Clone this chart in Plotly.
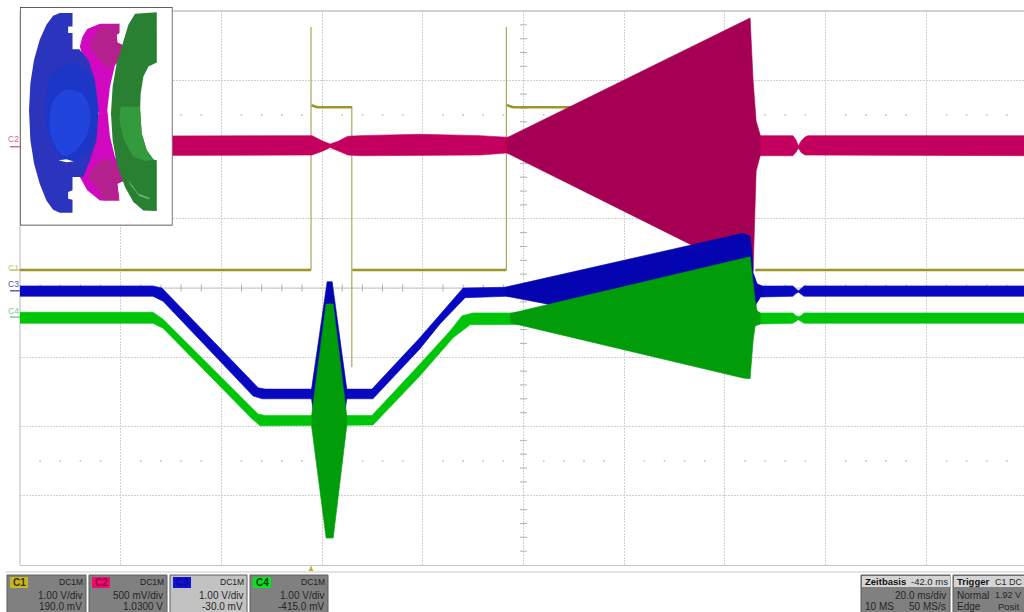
import plotly.graph_objects as go

# ---- Oscilloscope readings: time in ms from left edge, level in divisions from centre ----
c1_flat_t = [0, 57.8, None, 57.9, 59.0, 65.9, None, 66.0, 96.6, None, 96.7, 98.0, 145.0, None, 146.0, 200.6]
c1_flat_v = [0.26, 0.26, None, 2.64, 2.61, 2.61, None, 0.26, 0.26, None, 2.64, 2.61, 2.61, None, 0.26, 0.26]
c1_edge_t = [57.8, 57.8, None, 65.9, 65.9, None, 96.6, 96.6]
c1_edge_v = [0.26, 3.77, None, 2.62, -1.14, None, 0.26, 3.77]

c2_t = [0, 58.0, 60.2, 61.6, 63.2, 65.1, 67.5, 79.4, 91.4, 96.7, 98.3, 147.0, 153.5, 154.1, 154.6, 155.1, 155.9, 156.5, 200.6]
c2_top = [2.19, 2.2, 2.12, 2.08, 2.12, 2.19, 2.2, 2.22, 2.2, 2.17, 2.17, 2.2, 2.2, 2.14, 2.05, 2.12, 2.18, 2.2, 2.2]
c2_bot = [1.91, 1.92, 1.98, 2.03, 1.98, 1.92, 1.91, 1.91, 1.92, 1.95, 1.95, 1.91, 1.91, 1.96, 2.02, 1.96, 1.92, 1.91, 1.91]
c2_burst_top_t = [96.7, 145.0, 145.6, 146.2, 147.0]
c2_burst_top = [2.17, 3.9, 2.99, 2.41, 2.21]
c2_burst_bot_t = [96.7, 145.0, 145.6, 146.2, 147.0]
c2_burst_bot = [1.95, 0.2, 0.25, 1.69, 1.91]

c3_top_t = [0, 26.4, 28.2, 47.3, 48.7, 69.9, 79.4, 88.0, 96.3, 147.6, 153.5, 154.1, 154.6, 155.1, 155.7, 200.6]
c3_top = [0.03, 0.03, 0.0, -1.44, -1.46, -1.46, -0.72, 0.0, 0.01, 0.03, 0.03, -0.01, -0.04, -0.01, 0.03, 0.03]
c3_bot_t = [0, 26.4, 28.4, 46.3, 48.1, 70.1, 79.4, 83.4, 88.4, 96.7, 147.0, 153.5, 154.1, 154.6, 155.1, 155.7, 200.6]
c3_bot = [-0.12, -0.12, -0.19, -1.56, -1.6, -1.6, -0.88, -0.52, -0.14, -0.12, -0.13, -0.12, -0.08, -0.06, -0.08, -0.12, -0.12]
c3_b1_t = [57.9, 61.0, 62.0, 64.9]
c3_b1_top = [-1.46, 0.09, 0.09, -1.46]
c3_b1_bot = [-1.6, -3.15, -3.15, -1.6]
c3_b2_top_t = [96.3, 143.6, 145.0, 145.4, 145.6, 146.4, 147.4]
c3_b2_top = [0.01, 0.79, 0.75, 0.49, 0.22, 0.06, 0.03]
c3_b2_bot_t = [96.7, 103.9, 143.6, 145.0, 145.6, 146.2, 147.0]
c3_b2_bot = [-0.12, -0.22, -0.88, -0.84, -0.48, -0.23, -0.14]

c4_top_t = [0, 26.4, 28.4, 47.3, 48.7, 69.9, 79.4, 85.4, 87.8, 90.0, 97.3, 147.0, 153.5, 154.1, 154.6, 155.1, 155.7, 200.6]
c4_top = [-0.35, -0.35, -0.45, -1.82, -1.84, -1.84, -1.1, -0.62, -0.4, -0.36, -0.36, -0.36, -0.36, -0.4, -0.41, -0.4, -0.36, -0.36]
c4_bot_t = [0, 26.4, 28.4, 46.1, 47.7, 70.1, 79.4, 86.0, 89.4, 97.3, 147.0, 153.5, 154.1, 154.6, 155.1, 155.7, 200.6]
c4_bot = [-0.51, -0.51, -0.58, -1.89, -1.99, -1.98, -1.27, -0.72, -0.53, -0.52, -0.52, -0.51, -0.48, -0.46, -0.48, -0.51, -0.51]
c4_b1_t = [57.9, 60.8, 62.2, 64.9]
c4_b1_top = [-1.85, -0.23, -0.23, -1.85]
c4_b1_bot = [-1.99, -3.61, -3.61, -1.99]
c4_b2_top_t = [97.3, 145.0, 145.4, 146.0, 146.4, 147.0]
c4_b2_top = [-0.37, 0.45, 0.2, -0.19, -0.33, -0.36]
c4_b2_bot_t = [97.3, 143.6, 145.0, 145.6, 146.0, 147.0]
c4_b2_bot = [-0.5, -1.3, -1.31, -0.76, -0.55, -0.52]

# ---- Inset drawing outlines (in inset units) ----
ins_blue_x = [180, 218, 218, 205, 205, 218, 218, 238, 265, 285, 296, 290, 270, 250, 218, 218, 205, 205, 218, 218,
              180, 160, 140, 120, 103, 92, 88, 92, 103, 120, 140, 160]
ins_blue_y = [40, 40, 80, 80, 100, 100, 148, 148, 180, 240, 330, 420, 480, 530, 530, 570, 575, 595, 598, 637,
              637, 628, 600, 550, 490, 420, 330, 250, 180, 120, 75, 48]
ins_recess_x = [215, 270, 294, 270, 200, 148, 138, 155]
ins_recess_y = [192, 225, 340, 445, 484, 410, 340, 225]
ins_glow_x = [200, 250, 272, 250, 195, 158, 150, 165]
ins_glow_y = [270, 285, 350, 425, 468, 420, 350, 295]
ins_spark_x = [176, 200, 222, 200]
ins_spark_y = [480, 477, 484, 486]
ins_mag_x = [240, 248, 262, 300, 358, 358, 350, 352, 388, 345, 330, 322, 330, 345, 385, 352, 358, 300, 262, 240, 296]
ins_mag_y = [140, 110, 88, 72, 72, 100, 105, 128, 145, 195, 260, 330, 410, 470, 535, 550, 600, 600, 570, 530, 340]
ins_magtop_x = [300, 358, 358, 350, 352, 388, 345, 320, 285, 270]
ins_magtop_y = [78, 72, 100, 105, 128, 145, 195, 205, 165, 130]
ins_magbot_x = [262, 290, 320, 350, 385, 352, 358, 310, 290]
ins_magbot_y = [530, 490, 472, 490, 535, 550, 600, 600, 560]
ins_green_x = [405, 470, 470, 445, 430, 422, 420, 425, 440, 460, 470, 470, 430, 400, 375, 350, 338, 333, 338, 350, 370, 385]
ins_green_y = [42, 38, 188, 200, 230, 280, 330, 400, 450, 478, 480, 632, 630, 605, 560, 490, 420, 340, 260, 190, 125, 75]
ins_glight_x = [362, 420, 425, 440, 460, 438, 400, 372, 358]
ins_glight_y = [320, 320, 400, 450, 478, 482, 470, 420, 360]
ins_shine_x = [385, 415, 448, 448, 418, 392]
ins_shine_y = [540, 580, 592, 597, 587, 555]
ins_frame_x = [61, 517, 517, 61, 61]
ins_frame_y = [22, 22, 675, 675, 22]

# ---- Panel text ----
chan_names = ["C1", "C2", "C3", "C4"]
chan_coupling = ["DC1M", "DC1M", "DC1M", "DC1M"]
chan_scale = ["1.00 V/div", "500 mV/div", "1.00 V/div", "1.00 V/div"]
chan_offset = ["190.0 mV", "1.0300 V", "-30.0 mV", "-415.0 mV"]
chan_panel_x = [(7, 86), (89, 167), (170, 247), (250, 328)]
chan_panel_col = ["#808080", "#808080", "#c2c2c2", "#808080"]
chan_badge_col = ["#c8b820", "#e8106c", "#1010d8", "#10e020"]
chan_text_col = ["#3a3000", "#a00050", "#0a0a90", "#004000"]
trace_label_y = [268, 139, 284, 311]
trace_mark_v = [0.26, 2.04, -0.04, -0.42]
trace_label_col = ["#c8c470", "#d86098", "#5058b0", "#70d080"]

OLIVE_FLAT, OLIVE_EDGE = "#9c9628", "#a9a662"
MAG_FLAT, MAG_BURST = "#c4005e", "#a50054"
BLUE_FLAT, BLUE_BURST = "#0808c0", "#0404b0"
GREEN_FLAT, GREEN_BURST = "#00c40a", "#009c0a"
PX, PY = 1024.0, 612.0


def band(top_t, top, bot_t, bot, color, name):
    return go.Scatter(x=list(top_t) + list(bot_t)[::-1], y=list(top) + list(bot)[::-1],
                      mode="lines", fill="toself", fillcolor=color, line=dict(width=0.6, color=color),
                      name=name, showlegend=False, hoverinfo="skip")


def inset(x, y, color, line=None, smooth=False):
    return go.Scatter(x=x + x[:1] if smooth else x, y=y + y[:1] if smooth else y, mode="lines", fill="toself",
                      fillcolor=color,
                      line=dict(width=1.3 if line else 0, color=line or color, shape="spline" if smooth else "linear"),
                      xaxis="x2", yaxis="y2", showlegend=False, hoverinfo="skip")


fig = go.Figure()

# graticule minor marks
minor_t = [t for t in range(4, 200, 4) if t % 20]
for lv in (2.5, -2.5):
    fig.add_trace(go.Scatter(x=minor_t, y=[lv] * len(minor_t), mode="markers", showlegend=False, hoverinfo="skip",
                             marker=dict(symbol="square", size=1.6, color="#c4c4c4")))
fig.add_trace(go.Scatter(x=minor_t, y=[0] * len(minor_t), mode="markers", showlegend=False, hoverinfo="skip",
                         marker=dict(symbol="line-ns", size=5, line=dict(width=1, color="#b0b0b0"))))
minor_v = [i / 5 for i in range(-20, 21) if i % 5]
fig.add_trace(go.Scatter(x=[100] * len(minor_v), y=minor_v, mode="markers", showlegend=False, hoverinfo="skip",
                         marker=dict(symbol="line-ew", size=5, line=dict(width=1, color="#b0b0b0"))))

# C1
fig.add_trace(go.Scatter(x=c1_edge_t, y=c1_edge_v, mode="lines", line=dict(color=OLIVE_EDGE, width=1.2),
                         showlegend=False, hoverinfo="skip"))
fig.add_trace(go.Scatter(x=c1_flat_t, y=c1_flat_v, mode="lines", line=dict(color=OLIVE_FLAT, width=2.6),
                         showlegend=False, hoverinfo="skip"))
# C2
fig.add_trace(band(c2_t, c2_top, c2_t, c2_bot, MAG_FLAT, "C2"))
fig.add_trace(band(c2_burst_top_t, c2_burst_top, c2_burst_bot_t, c2_burst_bot, MAG_BURST, "C2 burst"))
# C3
fig.add_trace(band(c3_top_t, c3_top, c3_bot_t, c3_bot, BLUE_FLAT, "C3"))
fig.add_trace(band(c3_b1_t, c3_b1_top, c3_b1_t, c3_b1_bot, BLUE_BURST, "C3 burst 1"))
fig.add_trace(band(c3_b2_top_t, c3_b2_top, c3_b2_bot_t, c3_b2_bot, BLUE_BURST, "C3 burst 2"))
# C4
fig.add_trace(band(c4_top_t, c4_top, c4_bot_t, c4_bot, GREEN_FLAT, "C4"))
fig.add_trace(band(c4_b1_t, c4_b1_top, c4_b1_t, c4_b1_bot, GREEN_BURST, "C4 burst 1"))
fig.add_trace(band(c4_b2_top_t, c4_b2_top, c4_b2_bot_t, c4_b2_bot, GREEN_BURST, "C4 burst 2"))

# Inset
fig.add_trace(inset(ins_frame_x, ins_frame_y, "#ffffff", "#2a2a2a"))
fig.add_trace(inset(ins_mag_x, ins_mag_y, "#d008c0"))
fig.add_trace(inset(ins_magtop_x, ins_magtop_y, "#b4208e"))
fig.add_trace(inset(ins_magbot_x, ins_magbot_y, "#b4208e"))
fig.add_trace(inset(ins_green_x, ins_green_y, "#2a8032"))
fig.add_trace(inset(ins_glight_x, ins_glight_y, "#349a3e"))
fig.add_trace(inset(ins_shine_x, ins_shine_y, "#6cb874"))
fig.add_trace(inset(ins_blue_x, ins_blue_y, "#2a34bc"))
fig.add_trace(inset(ins_recess_x, ins_recess_y, "#1c36c8", smooth=True))
fig.add_trace(inset(ins_glow_x, ins_glow_y, "#2144dc", smooth=True))
fig.add_trace(inset(ins_spark_x, ins_spark_y, "#ffffff"))

shapes, annos = [], []


def rect(x0, y0, x1, y1, fill, line=None):
    shapes.append(dict(type="rect", xref="paper", yref="paper", x0=x0 / PX, x1=x1 / PX, y0=1 - y1 / PY, y1=1 - y0 / PY,
                       fillcolor=fill, line=dict(width=1 if line else 0, color=line or fill), layer="above"))


def text(s, x, y, anchor="right", color="#262626", size=10, bold=False):
    annos.append(dict(text=f"<b>{s}</b>" if bold else s, x=x / PX, y=1 - y / PY, xref="paper", yref="paper",
                      xanchor=anchor, yanchor="middle", showarrow=False,
                      font=dict(family="Liberation Sans", size=size, color=color)))


# graticule centre row
shapes.append(dict(type="line", xref="x", yref="y", x0=0, x1=200.6, y0=0, y1=0, line=dict(color="#c4c4c4", width=1), layer="below"))
# strip line above the panels
rect(6, 571.5, 1024, 572.5, "#c8c8c8")
# trigger marker
shapes.append(dict(type="path", xref="paper", yref="paper", layer="above", fillcolor="#c0b040", line=dict(width=0),
                   path=f"M {308.5/PX} {1-571/PY} L {313.5/PX} {1-571/PY} L {311/PX} {1-565.5/PY} Z"))

# channel panels
for i, name in enumerate(chan_names):
    x0, x1 = chan_panel_x[i]
    rect(x0, 575, x1, 613, chan_panel_col[i], "#5c5c5c")
    rect(x0 + 3, 577, x0 + 21, 588, chan_badge_col[i])
    text(name, x0 + 12, 582.5, "center", chan_text_col[i], 10, True)
    text(chan_coupling[i], x1 - 1, 582, "right", "#202020", 8.5)
    text(chan_scale[i], x1 - 2, 595)
    text(chan_offset[i], x1 - 2, 606.5)

# time-base panel
rect(861, 575, 950, 613, "#808080", "#5c5c5c")
rect(862, 576, 950, 587, "#d4d4d4")
text("Zeitbasis", 863, 581.5, "left", "#101010", 9.5, True)
text("-42.0 ms", 950, 581.5, size=9.5)
text("20.0 ms/div", 948, 595)
text("10 MS", 863, 606.5, "left")
text("50 MS/s", 948, 606.5)

# trigger panel
rect(953, 575, 1030, 613, "#808080", "#5c5c5c")
rect(954, 576, 1030, 587, "#d4d4d4")
text("Trigger", 955, 581.5, "left", "#101010", 9.5, True)
text("C1 DC", 993, 581.5, "left", "#262626", 9)
text("Normal", 955, 595, "left")
text("1.92 V", 993, 595, "left", size=9)
text("Edge", 955, 606.5, "left")
text("Posit", 996, 606.5, "left", size=9.5)

# trace ground markers on the left
for i, name in enumerate(chan_names):
    text(name, 13, trace_label_y[i], "center", trace_label_col[i], 8.5)
    shapes.append(dict(type="line", xref="paper", yref="y", x0=10 / PX, x1=20 / PX, y0=trace_mark_v[i], y1=trace_mark_v[i],
                       line=dict(color=trace_label_col[i], width=1.4)))

GRID = dict(showgrid=True, gridcolor="#d0d0d0", griddash="2px,1px", gridwidth=1, zeroline=False,
            showticklabels=False, ticks="", showline=False, fixedrange=True)
fig.update_layout(
    width=1024, height=612, autosize=False, margin=dict(l=0, r=0, t=0, b=0),
    paper_bgcolor="#ffffff", plot_bgcolor="#ffffff", hovermode=False, showlegend=False,
    shapes=shapes, annotations=annos,
    xaxis=dict(domain=[20 / PX, 1], range=[0, 199.4], tickmode="linear", tick0=0, dtick=20, **GRID),
    yaxis=dict(domain=[1 - 565 / PY, 1 - 11 / PY], range=[-4, 4], tickmode="linear", tick0=-4, dtick=1, **GRID),
    xaxis2=dict(domain=[20 / PX, 172.5 / PX], range=[61, 517], anchor="y2", visible=False, fixedrange=True),
    yaxis2=dict(domain=[1 - 225.5 / PY, 1 - 7 / PY], range=[675, 22], anchor="x2", visible=False, fixedrange=True),
)
# graticule frame (top, bottom and left)
fig.add_shape(type="line", xref="paper", yref="paper", x0=20 / PX, x1=1, y0=1 - 11 / PY, y1=1 - 11 / PY,
              line=dict(color="#c4c4c4", width=1.5), layer="below")
fig.add_shape(type="line", xref="paper", yref="paper", x0=20 / PX, x1=1, y0=1 - 565.5 / PY, y1=1 - 565.5 / PY,
              line=dict(color="#c4c4c4", width=1.2), layer="below")
fig.add_shape(type="line", xref="paper", yref="paper", x0=20 / PX, x1=20 / PX, y0=1 - 565 / PY, y1=1 - 11 / PY,
              line=dict(color="#c4c4c4", width=1.2), layer="below")

fig.write_html("out.html", config=dict(displayModeBar=False),
               post_script="document.body.style.margin='0';document.documentElement.style.overflow='hidden';")
